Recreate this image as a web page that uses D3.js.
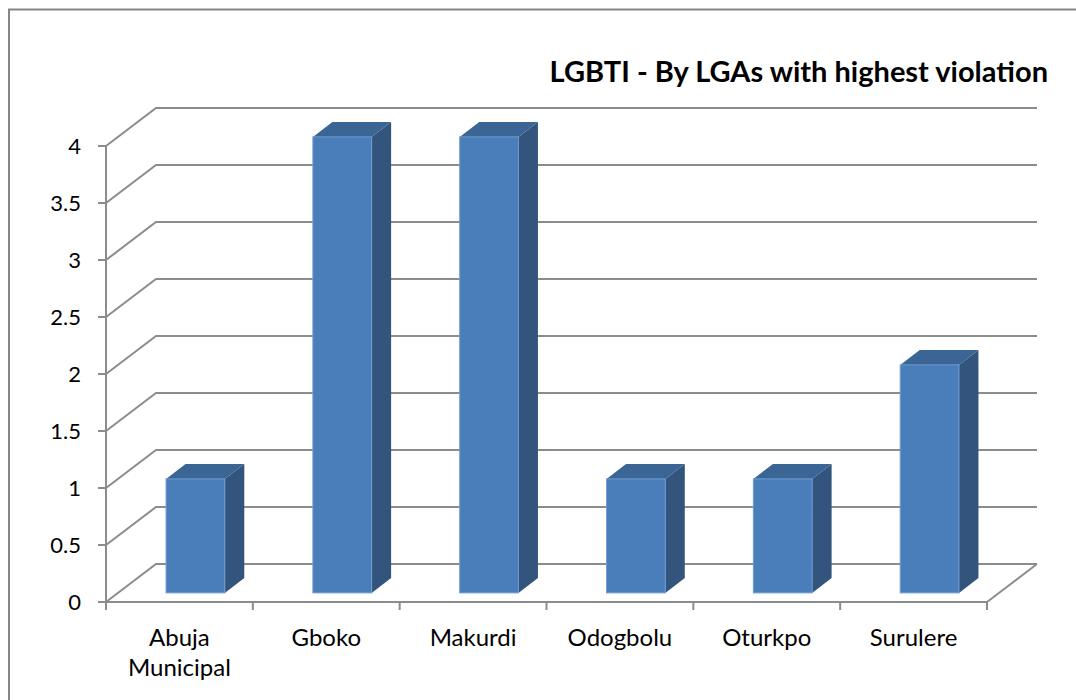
<!DOCTYPE html>
<html><head><meta charset="utf-8">
<script src="https://cdn.jsdelivr.net/npm/d3@7"></script>
<style>html,body{margin:0;padding:0;background:#fff;overflow:hidden}</style>
</head><body>
<svg id="c" width="1076" height="700"></svg>
<script>
const categories = ["Abuja Municipal","Gboko","Makurdi","Odogbolu","Oturkpo","Surulere"];
const values = [1,4,4,1,1,2];
const yTicks = [0,0.5,1,1.5,2,2.5,3,3.5,4];
const title = "LGBTI - By LGAs with highest violation";

const svg = d3.select("#c");
const font = "Lato, 'Open Sans', sans-serif";
const DX = 50, DY = -38;
const x = d3.scaleBand().domain(categories).range([106, 987]).paddingInner(0).paddingOuter(0);
const y = d3.scaleLinear().domain([0, 4]).range([602, 146]);
const grid = "#8c8c8c";

// frame
svg.append("rect").attr("x",9).attr("y",9.5).attr("width",1080).attr("height",700).attr("fill","none").attr("stroke","#858585").attr("stroke-width",2);

// gridlines: left wall diagonal + back wall
const g = svg.append("g").attr("stroke", grid).attr("stroke-width", 2).attr("fill","none");
yTicks.forEach(t => {
  const yy = y(t);
  g.append("path").attr("d", `M${x.range()[0]},${yy}L${x.range()[0]+DX},${yy+DY}L${x.range()[1]+DX},${yy+DY}`);
});
g.append("path").attr("d", `M${x.range()[1]},${y(0)}L${x.range()[1]+DX},${y(0)+DY}`);
g.append("line").attr("x1",x.range()[0]).attr("x2",x.range()[1]).attr("y1",y(0)).attr("y2",y(0));
g.append("line").attr("x1",x.range()[0]).attr("x2",x.range()[0]).attr("y1",y(4)).attr("y2",y(0)+8);
yTicks.forEach(t => g.append("line").attr("x1",x.range()[0]-8).attr("x2",x.range()[0]).attr("y1",y(t)).attr("y2",y(t)));
const bounds = categories.map(c => x(c)).concat([x.range()[1]]);
bounds.forEach(b => g.append("line").attr("x1",b).attr("x2",b).attr("y1",y(0)).attr("y2",y(0)+8));

// y labels
svg.append("g").selectAll("text").data(yTicks).join("text")
  .attr("x", 81).attr("y", d => y(d)).attr("dy","0.36em").attr("text-anchor","end")
  .attr("font-family", font).attr("font-size", 22).attr("fill","#000").text(d => d);

// bars
const f1 = 0.24, f2 = 0.63, shift = 4;
const bw = x.bandwidth() * 0.4;
const bars = svg.append("g");
categories.forEach((c, i) => {
  const v = values[i];
  const cx = x(c) + x.bandwidth()/2 + shift;
  const x0 = cx - bw/2 + DX*f1, x1 = cx + bw/2 + DX*f1;
  const yb = y(0) + DY*f1, yt = y(v) + DY*f1;
  const ox = DX*(f2-f1), oy = DY*(f2-f1);
  bars.append("path").attr("d", `M${x1},${yt}L${x1+ox},${yt+oy}L${x1+ox},${yb+oy}L${x1},${yb}Z`).attr("fill","#33557d");
  bars.append("path").attr("d", `M${x0},${yt}L${x0+ox},${yt+oy}L${x1+ox},${yt+oy}L${x1},${yt}Z`).attr("fill","#3b6595");
  bars.append("rect").attr("x",x0).attr("y",yt).attr("width",x1-x0).attr("height",yb-yt).attr("fill","#4a7ebb").attr("stroke","#6f9bd0").attr("stroke-width",1);
});

// category labels
const lab = svg.append("g");
categories.forEach(c => {
  const words = c === "Abuja Municipal" ? ["Abuja","Municipal"] : [c];
  const t = lab.append("text").attr("x", x(c)+x.bandwidth()/2).attr("y", 646)
    .attr("text-anchor","middle").attr("font-family",font).attr("font-size",24).attr("fill","#000");
  words.forEach((w,k) => t.append("tspan").attr("x", x(c)+x.bandwidth()/2).attr("dy", k===0?0:30).text(w));
});

// title
svg.append("text").attr("x",1048).attr("y",82).attr("text-anchor","end")
  .attr("font-family",font).attr("font-weight","bold").attr("font-size",29).attr("fill","#000").text(title);
</script>
</body></html>
